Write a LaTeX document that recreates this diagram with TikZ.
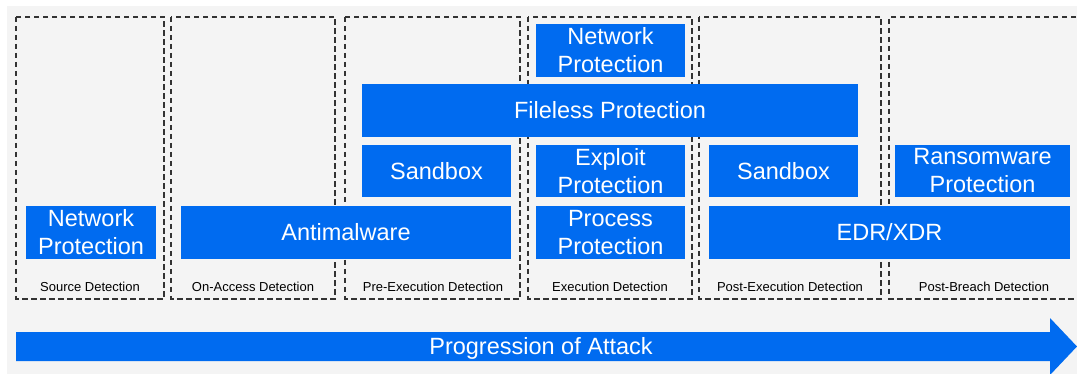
\documentclass[tikz,border=0pt]{standalone}
\usepackage{fontspec}
\setmainfont{Liberation Sans}
\definecolor{bgray}{HTML}{F4F4F4}
\definecolor{mblue}{RGB}{0,107,240}
\definecolor{dline}{HTML}{333333}
\begin{document}
\begin{tikzpicture}[x=1pt,y=-1pt,
  zone/.style={draw=dline,line width=1.3pt,dash pattern=on 5.5pt off 3.5pt},
  blk/.style={fill=mblue,text=white,inner sep=0pt,align=center,
    font=\fontsize{23.5}{28}\selectfont},
  zlabel/.style={font=\fontsize{13}{15}\selectfont,text=black,inner sep=0pt}]
\useasboundingbox (0,0) rectangle (1077,374);
\fill[bgray] (7,6) rectangle (1077,374);
% zones
\draw[zone] (16,17) rectangle (164,299);
\draw[zone] (171,17) rectangle (335,299);
\draw[zone] (345,17) rectangle (520,299);
\draw[zone] (528,17) rectangle (692,299);
\draw[zone] (699,17) rectangle (881,299);
\draw[zone] (1085,17) -- (889,17) -- (889,299) -- (1085,299);
% zone labels
\node[zlabel] (l1) at (90,287) {Source Detection};
\node[zlabel] (l2) at (253,287) {On-Access Detection};
\node[zlabel] (l3) at (433,287) {Pre-Execution Detection};
\node[zlabel] (l4) at (610,287) {Execution Detection};
\node[zlabel] (l5) at (790,287) {Post-Execution Detection};
\node[zlabel] (l6) at (984,287) {Post-Breach Detection};
% blocks
\node[blk,minimum width=130pt,minimum height=53pt] (np1) at (91,232.5) {Network\\Protection};
\node[blk,minimum width=330pt,minimum height=53pt] (am) at (346,232.5) {Antimalware};
\node[blk,minimum width=149pt,minimum height=52pt] (sb1) at (436.5,171) {Sandbox};
\node[blk,minimum width=496pt,minimum height=53pt] (fl) at (610,110.5) {Fileless Protection};
\node[blk,minimum width=149pt,minimum height=53pt] (np2) at (610.5,50.5) {Network\\Protection};
\node[blk,minimum width=149pt,minimum height=52pt] (ep) at (610.5,171) {Exploit\\Protection};
\node[blk,minimum width=149pt,minimum height=53pt] (pp) at (610.5,232.5) {Process\\Protection};
\node[blk,minimum width=149pt,minimum height=52pt] (sb2) at (783.5,171) {Sandbox};
\node[blk,minimum width=175pt,minimum height=52pt] (rw) at (982.5,171) {Ransomware\\Protection};
\node[blk,minimum width=361pt,minimum height=53pt] (edr) at (889.5,232.5) {EDR/XDR};
% progression arrow
\fill[mblue] (16,332) -- (1050,332) -- (1050,318) -- (1077,346.5) -- (1050,375) -- (1050,361) -- (16,361) -- cycle;
\node[text=white,font=\fontsize{23.5}{28}\selectfont,inner sep=0pt] (poa) at (541,348.5) {Progression of Attack};
\end{tikzpicture}
\end{document}
